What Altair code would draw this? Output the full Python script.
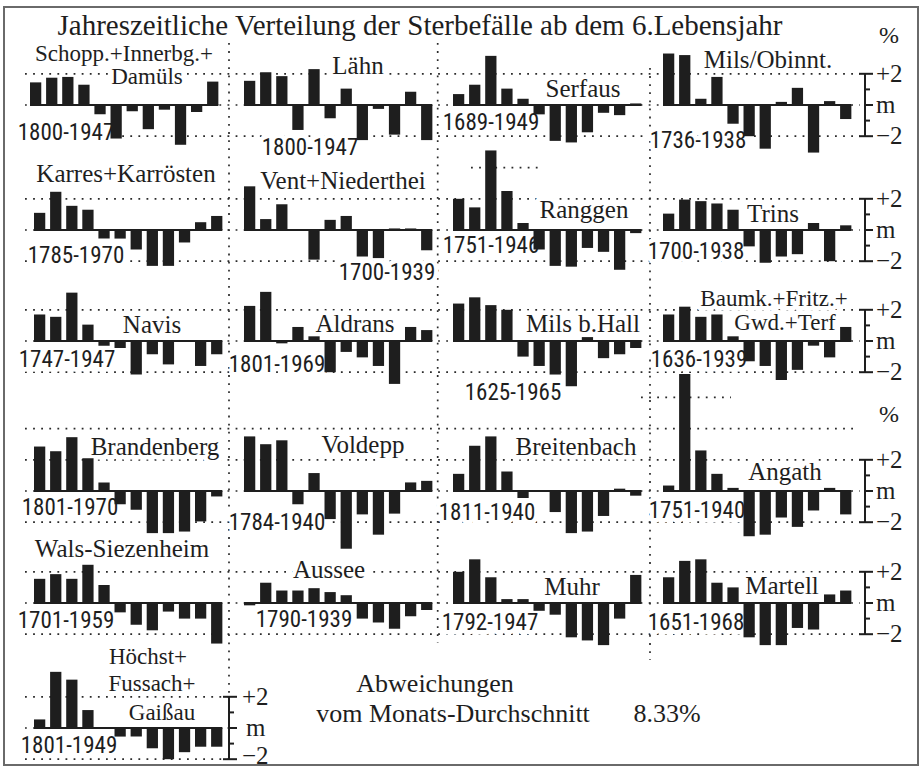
import altair as alt
import pandas as pd

# ---------------- data ----------------
MONTHS = [1, 2, 3, 4, 5, 6, 7, 8, 9, 10, 11, 12]

PLACE_LINES = [
    ["Schopp.+Innerbg.+", "Damüls"], ["Lähn"], ["Serfaus"], ["Mils/Obinnt."],
    ["Karres+Karrösten"], ["Vent+Niederthei"], ["Ranggen"], ["Trins"],
    ["Navis"], ["Aldrans"], ["Mils b.Hall"], ["Baumk.+Fritz.+", "Gwd.+Terf"],
    ["Brandenberg"], ["Voldepp"], ["Breitenbach"], ["Angath"],
    ["Wals-Siezenheim"], ["Aussee"], ["Muhr"], ["Martell"],
    ["Höchst+", "Fussach+", "Gaißau"],
]
PERIODS = [
    "1800-1947", "1800-1947", "1689-1949", "1736-1938",
    "1785-1970", "1700-1939", "1751-1946", "1700-1938",
    "1747-1947", "1801-1969", "1625-1965", "1636-1939",
    "1801-1970", "1784-1940", "1811-1940", "1751-1940",
    "1701-1959", "1790-1939", "1792-1947", "1651-1968",
    "1801-1949",
]

schopp = [1.45, 1.75, 1.8, 1.3, -0.6, -2.15, -0.4, -1.55, -0.3, -2.55, -0.45, 1.5]
laehn = [1.55, 2.1, 1.85, -1.6, 2.3, -0.85, 1.05, -2.25, -0.25, -1.9, 0.85, -2.25]
serfaus = [0.7, 1.3, 3.15, 1.05, 0.4, -0.6, -2.3, -2.4, -1.75, -0.5, -0.65, 0.1]
mils_obinnt = [3.3, 3.2, 0.4, 1.8, -1.2, -2.0, -2.8, 0.2, 1.1, -3.05, 0.25, -0.9]
karres = [1.1, 2.45, 1.55, 1.3, -0.55, -0.55, -1.25, -2.3, -2.3, -0.8, 0.5, 0.9]
vent = [2.8, 0.7, 1.65, 0.0, -1.9, 0.65, 0.9, -1.7, -1.8, 0.1, 0.1, -1.3]
ranggen = [2.0, 1.45, 5.1, 2.5, 0.45, -1.25, -2.3, -2.35, -1.15, -1.4, -2.55, -0.2]
trins = [1.05, 1.95, 1.85, 1.7, 1.3, -1.05, -2.1, -1.7, -1.55, 0.45, -2.0, 0.3]
navis = [1.7, 1.55, 3.1, 1.05, -0.3, -0.45, -2.15, -0.85, -1.5, 0.0, -1.6, -0.85]
aldrans = [2.25, 3.15, -0.15, 0.9, 0.3, -2.0, -0.7, -1.05, -1.6, -2.75, 0.9, 0.7]
mils_hall = [2.4, 2.8, 2.3, 2.0, -1.0, -1.6, -2.15, -2.9, 0.25, -1.1, -0.85, -0.45]
baumk = [1.7, 2.2, 1.55, 1.7, 0.3, -1.3, -1.6, -2.5, -1.85, -0.3, -1.05, 0.9]
brandenberg = [2.85, 2.55, 3.45, 2.1, 0.55, -0.85, -1.2, -2.7, -2.7, -2.6, -1.95, -0.35]
voldepp = [3.5, 3.0, 3.25, -0.85, 1.15, -1.8, -3.7, -1.5, -2.8, -1.45, 0.55, 0.65]
breitenbach = [1.1, 2.9, 3.5, 1.25, -0.45, 0.0, -1.35, -2.7, -2.6, -1.6, 0.15, -0.3]
angath = [0.35, 7.5, 2.6, 1.1, 0.2, -2.9, -2.8, -1.7, -2.3, -1.25, 0.2, -1.5]
wals = [1.55, 1.85, 1.55, 2.45, 1.15, -0.6, -1.4, -1.75, -0.55, -1.0, -1.0, -2.6]
aussee = [-0.15, 1.3, 0.8, 0.8, 0.95, 0.7, 0.5, -1.0, -1.25, -1.65, -0.85, -0.45]
muhr = [2.0, 2.8, 1.65, 0.25, 0.25, -0.5, -0.75, -2.2, -2.4, -2.7, -1.0, 1.8]
martell = [1.65, 2.7, 2.8, 1.3, 1.0, -2.2, -2.7, -2.7, -1.6, -1.7, 0.55, 0.8]
hoechst = [0.55, 3.6, 3.1, 1.15, 0.0, -0.55, -0.55, -1.3, -2.0, -1.55, -1.2, -1.2]

SERIES = [schopp, laehn, serfaus, mils_obinnt, karres, vent, ranggen, trins,
          navis, aldrans, mils_hall, baumk, brandenberg, voldepp, breitenbach, angath,
          wals, aussee, muhr, martell, hoechst]

TITLE = "Jahreszeitliche Verteilung der Sterbefälle ab dem 6.Lebensjahr"
FOOT1 = "Abweichungen"
FOOT2 = "vom Monats-Durchschnitt"
MEAN_LABEL = "8.33%"
UNIT_LABEL = "%"
SCALE_LEVELS = [2, 0, -2]
SCALE_TEXT = ["+2", "m", "\u22122"]

# ---------------- layout (pixels of the 922x768 page) ----------------
W, H = 922, 768
PAD = {"left": 4, "top": 7, "right": 4, "bottom": 3}
SLOT = 16.1          # px per month slot
BARW = 0.70          # bar width in slots
PPP = 15.6           # px per percent
ROW_BASE = [105, 230, 341, 491, 603, 728]
COL_X0 = [34, 244, 453, 663]
PANEL_RC = [(0, 0), (0, 1), (0, 2), (0, 3), (1, 0), (1, 1), (1, 2), (1, 3),
            (2, 0), (2, 1), (2, 2), (2, 3), (3, 0), (3, 1), (3, 2), (3, 3),
            (4, 0), (4, 1), (4, 2), (4, 3), (5, 0)]
PANEL_DX = [-4] + [0] * 20

# label anchors: (centre x, baseline y, font size) per line
PLACE_POS = [
    [(124, 61, 23), (147, 84, 23)], [(358, 74, 25)], [(583, 97, 25)], [(768, 68, 25)],
    [(126, 182, 25)], [(343, 189, 25)], [(584, 218, 25)], [(773, 222, 25)],
    [(152, 333, 25)], [(355, 332, 25)], [(583, 332, 25)], [(774, 306, 23), (785, 330, 23)],
    [(155, 455, 25)], [(363, 453, 25)], [(576, 455, 25)], [(785, 480, 25)],
    [(122, 557, 25)], [(329, 578, 25)], [(572, 595, 25)], [(782, 594, 25)],
    [(148, 664, 23), (152, 691, 23), (162, 720, 23)],
]
PERIOD_POS = [
    (66, 140), (310, 155), (491, 130), (698, 148),
    (76, 263), (387, 280), (491, 253), (696, 259),
    (67, 367), (277, 372), (513, 400), (699, 367),
    (70, 515), (277, 530), (487, 520), (697, 518),
    (66, 628), (304, 627), (490, 630), (696, 630),
    (69, 753),
]


def ux(px):
    return px / SLOT


def uy(px):
    return px / PPP


xs = alt.Scale(domain=[ux(PAD["left"]), ux(W - PAD["right"])], nice=False, zero=False)
ys = alt.Scale(domain=[uy(H - PAD["bottom"]), uy(PAD["top"])], nice=False, zero=False)

# ---------------- bars ----------------
bar_rows = []
base_rows = []
for i, vals in enumerate(SERIES):
    r, c = PANEL_RC[i]
    x0 = ux(COL_X0[c] + PANEL_DX[i])
    base = uy(ROW_BASE[r])
    for m, v in zip(MONTHS, vals):
        bar_rows.append({"place": " ".join(PLACE_LINES[i]), "month": m, "value": v,
                         "xs": x0 + (m - 1), "base": base})
    base_rows.append({"x": x0, "x2": x0 + 11 + BARW, "y": base, "y2": base})
bars_df = pd.DataFrame(bar_rows)
base_df = pd.DataFrame(base_rows)

# ---------------- dotted guide lines ----------------
grid = []


def hline(x1, x2, y):
    grid.append({"x": ux(x1), "x2": ux(x2), "y": uy(y), "y2": uy(y)})


for r in range(5):
    for lvl in SCALE_LEVELS:
        hline(25, 860, ROW_BASE[r] - lvl * PPP)
hline(25, 853, ROW_BASE[3] - 4 * PPP)
for lvl in SCALE_LEVELS:
    hline(25, 229, ROW_BASE[5] - lvl * PPP)
hline(471, 539, ROW_BASE[1] - 4 * PPP)
hline(641, 731, ROW_BASE[3] - 6 * PPP)
for xv, ya, yb in [(229, 43, 697), (437.7, 43, 643), (650, 68, 660)]:
    grid.append({"x": ux(xv), "x2": ux(xv), "y": uy(ya), "y2": uy(yb)})
grid_df = pd.DataFrame(grid)

# ---------------- scale brackets ----------------
brackets = [(865, ROW_BASE[r]) for r in range(5)] + [(229, ROW_BASE[5])]
br = []
for xb, b in brackets:
    top, bot = b - 2 * PPP, b + 2 * PPP
    br.append({"x": ux(xb), "x2": ux(xb), "y": uy(top), "y2": uy(bot)})
    br.append({"x": ux(xb - 6), "x2": ux(xb + 8), "y": uy(top), "y2": uy(top)})
    br.append({"x": ux(xb - 6), "x2": ux(xb + 8), "y": uy(bot), "y2": uy(bot)})
    br.append({"x": ux(xb), "x2": ux(xb + 8), "y": uy(b), "y2": uy(b)})
    for lv in (1, -1):
        yy = b - lv * PPP
        br.append({"x": ux(xb), "x2": ux(xb + 5), "y": uy(yy), "y2": uy(yy)})
br_df = pd.DataFrame(br)

# ---------------- texts ----------------
serif_rows = [{"text": TITLE, "x": ux(420), "y": uy(35), "fs": 29},
              {"text": UNIT_LABEL, "x": ux(889), "y": uy(43), "fs": 24},
              {"text": UNIT_LABEL, "x": ux(889), "y": uy(422), "fs": 24},
              {"text": FOOT1, "x": ux(435), "y": uy(692), "fs": 26},
              {"text": FOOT2, "x": ux(453), "y": uy(722), "fs": 26},
              {"text": MEAN_LABEL, "x": ux(667), "y": uy(722), "fs": 26}]
for lines, poss in zip(PLACE_LINES, PLACE_POS):
    for t, (px, py, fs) in zip(lines, poss):
        serif_rows.append({"text": t, "x": ux(px), "y": uy(py), "fs": fs})
serif_df = pd.DataFrame(serif_rows)

period_df = pd.DataFrame([{"text": t, "x": ux(px), "y": uy(py), "fs": 23}
                          for t, (px, py) in zip(PERIODS, PERIOD_POS)])

tick_rows = []
for (xb, b), lx in zip(brackets, [876] * 5 + [242]):
    for lvl, t in zip(SCALE_LEVELS, SCALE_TEXT):
        yy = b - lvl * PPP
        if xb < 300 and lvl < 0:
            yy -= 3
        tick_rows.append({"text": t, "x": ux(lx + (4 if t == "m" and xb < 300 else 0)),
                          "y": uy(yy), "fs": 25})
tick_df = pd.DataFrame(tick_rows)

SERIF = "Liberation Serif"
NARROW = "'Liberation Sans Narrow', 'Arial Narrow', 'Roboto Condensed', 'DejaVu Sans Condensed', sans-serif"
INK = "#1e1e1e"


def enc_xy():
    return dict(x=alt.X("x:Q", scale=xs, axis=None),
                y=alt.Y("y:Q", scale=ys, axis=None))


def text_layer(df, font, align, baseline, halo):
    props = dict(font=font, align=align, baseline=baseline)
    if halo:
        props.update(stroke="white", strokeWidth=9, strokeJoin="round", fill="white")
    else:
        props.update(fill=INK)
    return alt.Chart(df).mark_text(**props).encode(
        text="text:N", size=alt.Size("fs:Q", scale=None, legend=None), **enc_xy())


grid_layer = alt.Chart(grid_df).mark_rule(
    color="#2a2a2a", strokeWidth=1.7, strokeDash=[1.8, 6.3]
).encode(x=alt.X("x:Q", scale=xs, axis=None), x2="x2:Q",
         y=alt.Y("y:Q", scale=ys, axis=None), y2="y2:Q")

base_layer = alt.Chart(base_df).mark_rule(color=INK, strokeWidth=2.2).encode(
    x=alt.X("x:Q", scale=xs, axis=None), x2="x2:Q",
    y=alt.Y("y:Q", scale=ys, axis=None), y2="y2:Q")

bar_layer = alt.Chart(bars_df).transform_calculate(
    x2=f"datum.xs + {BARW}",
    ytop="datum.base - max(datum.value, 0)",
    ybot="datum.base - min(datum.value, 0)",
).mark_rect(color=INK).encode(
    x=alt.X("xs:Q", scale=xs, axis=None), x2="x2:Q",
    y=alt.Y("ytop:Q", scale=ys, axis=None), y2="ybot:Q",
    tooltip=["place:N", "month:O", "value:Q"])

bracket_layer = alt.Chart(br_df).mark_rule(color=INK, strokeWidth=2).encode(
    x=alt.X("x:Q", scale=xs, axis=None), x2="x2:Q",
    y=alt.Y("y:Q", scale=ys, axis=None), y2="y2:Q")

chart = alt.layer(
    grid_layer,
    text_layer(serif_df, SERIF, "center", "alphabetic", True),
    text_layer(period_df, NARROW, "center", "alphabetic", True),
    base_layer,
    bar_layer,
    bracket_layer,
    text_layer(serif_df, SERIF, "center", "alphabetic", False),
    text_layer(period_df, NARROW, "center", "alphabetic", False),
    text_layer(tick_df, SERIF, "left", "middle", False),
).properties(
    width=W - PAD["left"] - PAD["right"],
    height=H - PAD["top"] - PAD["bottom"],
    padding=PAD,
    autosize=alt.AutoSizeParams(type="none"),
    background="white",
).configure_view(stroke="#6a6a6a", strokeWidth=2)

chart.save("out.html", embed_options={"renderer": "svg", "actions": False})
